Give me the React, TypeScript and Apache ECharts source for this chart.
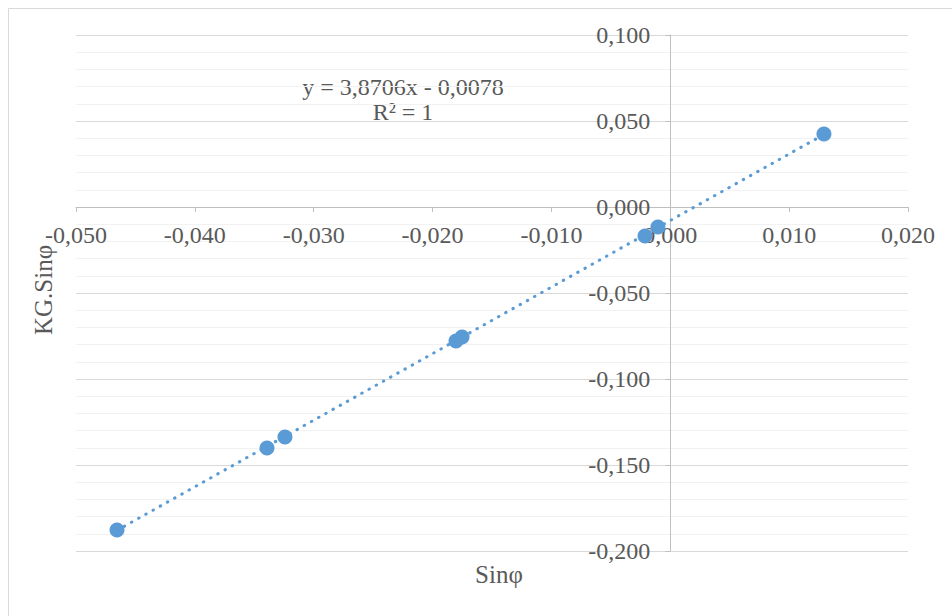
import React, { useEffect, useRef } from "react";
import * as echarts from "echarts";

const sinPhi = [-0.04655, -0.03393, -0.03242, -0.01803, -0.01752, -0.00213, -0.00104, 0.01293];
const kgSinPhi = [-0.1878, -0.1401, -0.1337, -0.0779, -0.0756, -0.0169, -0.0116, 0.0424];
const trendX = [-0.04655, 0.01293];
const trendY = [-0.1880, 0.0422];
const equationText = "y = 3,8706x - 0,0078";
const r2Text = "R² = 1";
const xTitle = "Sinφ";
const yTitle = "KG.Sinφ";

const X_MIN = -0.05, X_MAX = 0.02, X_STEP = 0.01;
const Y_MIN = -0.2, Y_MAX = 0.1, Y_STEP = 0.05;

const FONT = "'Liberation Serif', 'Times New Roman', serif";
const fmt = (v: number) => {
  if (Math.abs(v) < 1e-9) v = 0;
  return v.toFixed(3).replace(".", ",");
};

export default function App() {
  const ref = useRef<HTMLDivElement>(null);
  useEffect(() => {
    if (!ref.current) return;
    const chart = echarts.init(ref.current, undefined, { renderer: "svg" });
    const option: any = {
      animation: false,
      backgroundColor: "#ffffff",
      grid: { left: 76, right: 44, top: 35, bottom: 65, outerBoundsMode: "none", containLabel: false },
      xAxis: {
        type: "value",
        min: X_MIN,
        max: X_MAX,
        interval: X_STEP,
        offset: 0,
        axisLine: { show: true, onZero: false, lineStyle: { color: "#bfbfbf", width: 1 } },
        axisTick: { show: true, inside: false, length: 5, lineStyle: { color: "#bfbfbf" } },
        axisLabel: { show: false, color: "#595959", fontFamily: FONT, fontSize: 24, margin: 16, formatter: fmt },
        splitLine: { show: false },
      },
      yAxis: {
        type: "value",
        min: Y_MIN,
        max: Y_MAX,
        interval: Y_STEP,
        offset: 0,
        axisLine: { show: true, onZero: false, lineStyle: { color: "#bfbfbf", width: 1 } },
        axisTick: { show: true, length: 5, lineStyle: { color: "#bfbfbf" } },
        axisLabel: { show: false, color: "#595959", fontFamily: FONT, fontSize: 24, margin: 20, formatter: fmt },
        splitLine: { show: true, lineStyle: { color: "#d9d9d9", width: 1 } },
        minorTick: { show: false, splitNumber: 5 },
        minorSplitLine: { show: true, lineStyle: { color: "#f2f2f2", width: 1 } },
      },
      series: [
        {
          type: "line",
          data: trendX.map((x, i) => [x, trendY[i]]),
          symbol: "none",
          lineStyle: { color: "#5b9bd5", width: 3, type: [0.5, 7.75], cap: "round" },
          z: 2,
          silent: true,
        },
        {
          type: "scatter",
          data: sinPhi.map((x, i) => [x, kgSinPhi[i]]),
          symbol: "circle",
          symbolSize: 15,
          itemStyle: { color: "#5b9bd5", opacity: 1 },
          z: 3,
        },
      ],
      graphic: [
        {
          type: "rect",
          shape: { x: 8.5, y: 8.5, width: 1000, height: 1000 },
          style: { fill: "none", stroke: "#d9d9d9", lineWidth: 1 },
          silent: true,
        },
        {
          type: "text",
          x: 403,
          y: 87,
          style: { text: equationText, font: `24px ${FONT}`, fill: "#595959", align: "center", verticalAlign: "middle" },
        },
        {
          type: "text",
          x: 403,
          y: 112,
          style: { text: r2Text, font: `24px ${FONT}`, fill: "#595959", align: "center", verticalAlign: "middle" },
        },
        {
          type: "text",
          x: 499,
          y: 574,
          style: { text: xTitle, font: `25px ${FONT}`, fill: "#595959", align: "center", verticalAlign: "middle" },
        },
        {
          type: "text",
          x: 43,
          y: 290,
          rotation: Math.PI / 2,
          style: { text: yTitle, font: `25px ${FONT}`, fill: "#595959", align: "center", verticalAlign: "middle" },
        },
      ],
    };
    chart.setOption(option);
    // move the axes so they cross at the origin
    const origin = chart.convertToPixel({ gridIndex: 0 }, [0, 0]) as number[];
    const corner = chart.convertToPixel({ gridIndex: 0 }, [X_MIN, Y_MIN]) as number[];
    chart.setOption({
      xAxis: { offset: -(corner[1] - origin[1]), axisLabel: { show: true } },
      yAxis: { offset: -(origin[0] - corner[0]), axisLabel: { show: true } },
    });
    return () => chart.dispose();
  }, []);
  return (
    <div
      ref={ref}
      style={{ position: "fixed", left: 0, top: 0, width: 952, height: 616, background: "#fff" }}
    />
  );
}
